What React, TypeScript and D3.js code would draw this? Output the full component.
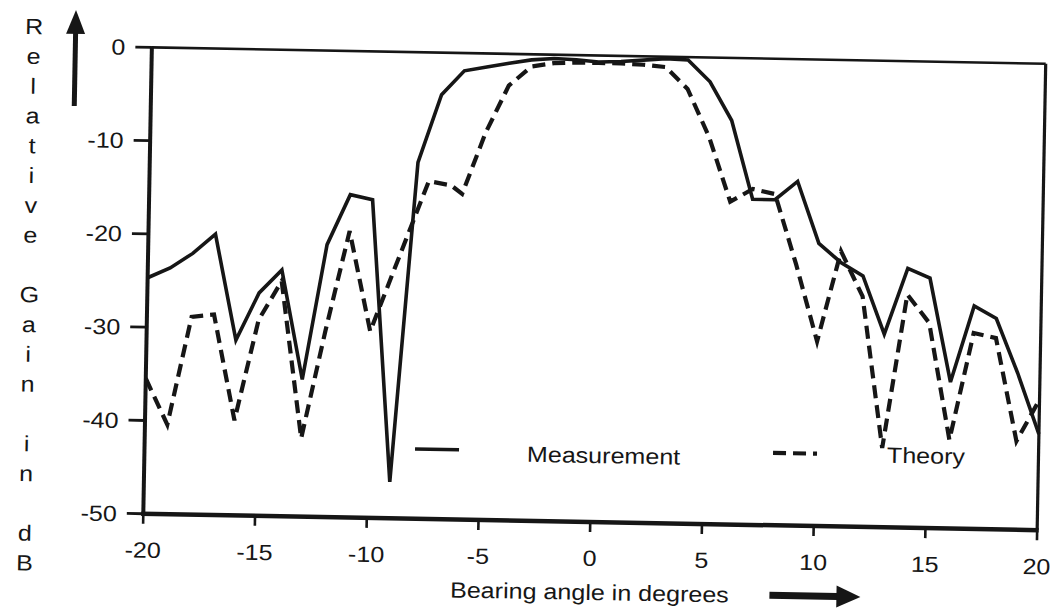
import React from "react";
import * as d3 from "d3";

// ---- data ----
const measurementAngles = [-20, -19, -18, -17, -16, -15, -14, -13, -12, -11, -10, -9, -8, -7, -6, -5, -4, -3, -2, -1, 0, 1, 2, 3, 4, 5, 6, 7, 8, 9, 10, 11, 12, 13, 14, 15, 16, 17, 18, 19, 20];
const measurementGain = [-24.7, -23.6, -22.0, -19.9, -31.2, -26.1, -23.6, -35.3, -20.8, -15.4, -15.9, -46.1, -11.8, -4.5, -1.9, -1.45, -1.0, -0.6, -0.4, -0.5, -0.7, -0.6, -0.4, -0.2, -0.3, -2.6, -6.7, -15.1, -15.1, -13.1, -19.7, -21.7, -23.1, -29.3, -22.2, -23.2, -34.3, -26.1, -27.4, -33.2, -39.7];

const theoryAngles = [-20, -19, -18, -17, -16, -15, -14, -13, -12, -11, -10, -9, -7.5, -6.5, -6, -5, -4, -3, -2, -1, 0, 1, 2, 3, 4, 5, 6, 7, 8, 9, 10, 11, 12, 13, 14, 15, 16, 17, 18, 19, 20];
const theoryGain = [-35.5, -40.4, -28.8, -28.5, -39.8, -29.0, -24.8, -41.6, -30.0, -19.3, -30.0, -23.5, -13.8, -14.2, -15.1, -8.5, -3.4, -1.3, -0.9, -0.8, -0.8, -0.8, -0.9, -1.1, -3.4, -8.5, -15.4, -14.0, -14.5, -22.0, -30.2, -20.5, -25.3, -41.5, -25.0, -28.0, -40.5, -29.0, -29.5, -40.5, -36.0];

const xTicks = [-20, -15, -10, -5, 0, 5, 10, 15, 20];
const yTicks = [0, -10, -20, -30, -40, -50];
const xDomain = [-20, 20];
const yDomain = [-50, 0];
const yTitle = "Relative Gain in dB";
const xTitle = "Bearing angle in degrees";
const legendLabels = ["Measurement", "Theory"];

// ---- layout ----
const W = 1052;
const H = 610;
const PLOT = { left: 147.5, right: 1041.5, top: 55.5, bottom: 522 };
const TILT = 1.05;
const CX = 594.5;
const CY = 289;
const INK = "#161616";
const FONT = "'Liberation Sans', Arial, Helvetica, sans-serif";
const FS = 22;
const SX = 1.14;
const DASH = "13,7";

function T({ x, y, anchor = "start", children }: any) {
  return (
    <text
      transform={`translate(${x},${y}) scale(${SX},1)`}
      textAnchor={anchor}
      fontFamily={FONT}
      fontSize={FS}
      fill={INK}
    >
      {children}
    </text>
  );
}

export default function App() {
  const x = d3.scaleLinear().domain(xDomain).range([PLOT.left, PLOT.right]);
  const y = d3.scaleLinear().domain(yDomain).range([PLOT.bottom, PLOT.top]);
  const line = d3
    .line<[number, number]>()
    .x((d) => x(d[0]))
    .y((d) => y(d[1]));

  const meas: [number, number][] = measurementAngles.map((a, i) => [a, measurementGain[i]]);
  const theo: [number, number][] = theoryAngles.map((a, i) => [a, theoryGain[i]]);

  const letters = yTitle.split("");

  return (
    <svg
      width={W}
      height={H}
      style={{ position: "absolute", left: 0, top: 0, background: "#fff" }}
    >
      <rect x={0} y={0} width={W} height={H} fill="#fff" />
      <g transform={`rotate(${TILT},${CX},${CY})`}>
        {/* data lines */}
        <path d={line(theo) || ""} fill="none" stroke={INK} strokeWidth={4.2} strokeDasharray={DASH} strokeLinejoin="miter" />
        <path d={line(meas) || ""} fill="none" stroke={INK} strokeWidth={3.6} strokeLinejoin="miter" />

        {/* frame */}
        <line x1={PLOT.left} x2={PLOT.right} y1={PLOT.top} y2={PLOT.top} stroke={INK} strokeWidth={2.6} />
        <line x1={PLOT.right} x2={PLOT.right} y1={PLOT.top} y2={PLOT.bottom} stroke={INK} strokeWidth={3.2} />
        <line x1={PLOT.left} x2={PLOT.left} y1={PLOT.top - 1} y2={PLOT.bottom + 2} stroke={INK} strokeWidth={4} />
        <line x1={PLOT.left - 2} x2={PLOT.right + 1.5} y1={PLOT.bottom} y2={PLOT.bottom} stroke={INK} strokeWidth={4.5} />

        {/* y ticks */}
        {yTicks.map((t) => (
          <g key={"y" + t}>
            <line x1={PLOT.left - 16.5} x2={PLOT.left} y1={y(t)} y2={y(t)} stroke={INK} strokeWidth={2.8} />
            <T x={121} y={y(t) + 7.9} anchor="end">{String(t)}</T>
          </g>
        ))}

        {/* x ticks */}
        {xTicks.map((t) => (
          <g key={"x" + t}>
            <line x1={x(t)} x2={x(t)} y1={PLOT.bottom} y2={PLOT.bottom + 10} stroke={INK} strokeWidth={2.6} />
            <T x={x(t)} y={566} anchor="middle">{String(t)}</T>
          </g>
        ))}

        {/* y title, one letter per line */}
        {letters.map((c, i) =>
          c === " " ? null : (
            <T key={"l" + i} x={29.5} y={44.4 + i * 29.8} anchor="middle">{c}</T>
          )
        )}

        {/* up arrow */}
        <rect x={68.5} y={42} width={5} height={73.5} fill={INK} />
        <path d="M71,19.5 L80.5,43.5 L61.5,43.5 Z" fill={INK} />

        {/* x title */}
        <T x={595} y={600} anchor="middle">{xTitle}</T>
        {/* right arrow */}
        <rect x={775} y={588.5} width={68} height={7} fill={INK} />
        <path d="M866,592 L842,581 L842,603 Z" fill={INK} />

        {/* legend */}
        <line x1={418} x2={462} y1={452.2} y2={452.2} stroke={INK} strokeWidth={3.6} />
        <T x={530} y={463}>{legendLabels[0]}</T>
        <line x1={776} x2={820} y1={449.6} y2={449.6} stroke={INK} strokeWidth={4.2} strokeDasharray={DASH} />
        <T x={890} y={457.4}>{legendLabels[1]}</T>
      </g>
    </svg>
  );
}
